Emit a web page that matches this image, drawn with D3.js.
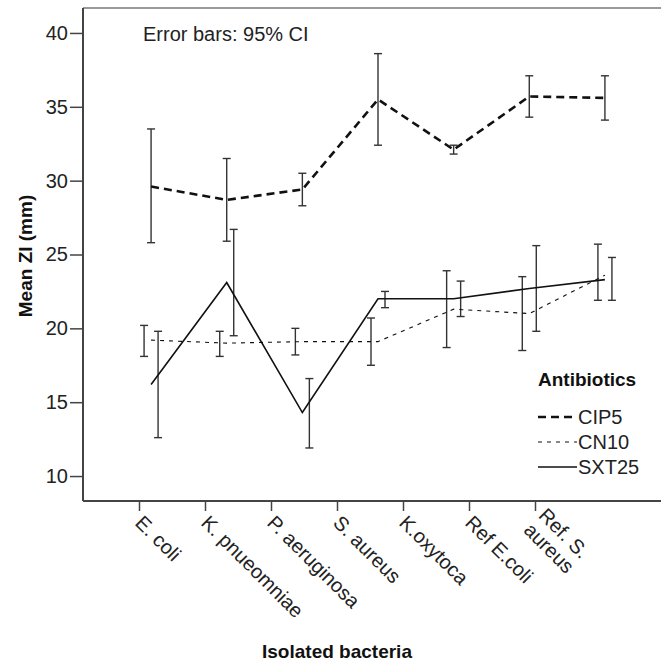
<!DOCTYPE html>
<html>
<head>
<meta charset="utf-8">
<script src="https://cdn.jsdelivr.net/npm/d3@7"></script>
<style>
  body { margin: 0; background: white; }
  svg { display: block; font-family: "Liberation Sans", Arial, sans-serif; }
</style>
</head>
<body>
<div id="content"></div>
<script>
// isolated bacteria (x categories), label lines for the rotated tick labels
const bacteria = ["E. coli", "K. pnueomniae", "P. aeruginosa", "S. aureus", "K.oxytoca", "Ref E.coli", "Ref. S. aureus"];
const tickLines = [["E. coli"], ["K. pnueomniae"], ["P. aeruginosa"], ["S. aureus"], ["K.oxytoca"], ["Ref E.coli"], ["Ref. S.", "aureus"]];

// mean zone of inhibition (mm) and 95% CI bounds
const cip5Mean = [29.6, 28.7, 29.4, 35.5, 32.1, 35.7, 35.6];
const cip5Lo   = [25.8, 25.9, 28.3, 32.4, 31.8, 34.3, 34.1];
const cip5Hi   = [33.5, 31.5, 30.5, 38.6, 32.4, 37.1, 37.1];

const cn10Mean = [19.2, 19.0, 19.1, 19.1, 21.3, 21.0, 23.6];
const cn10Lo   = [18.1, 18.1, 18.2, 17.5, 18.7, 18.5, 21.9];
const cn10Hi   = [20.2, 19.8, 20.0, 20.7, 23.9, 23.5, 25.7];

const sxtMean  = [16.2, 23.1, 14.3, 22.0, 22.0, 22.7, 23.3];
const sxtLo    = [12.6, 19.5, 11.9, 21.4, 20.8, 19.8, 21.9];
const sxtHi    = [19.8, 26.7, 16.6, 22.5, 23.2, 25.6, 24.8];

const yTicks = [10, 15, 20, 25, 30, 35, 40];

const W = 661;
const H = 664;
const plot = { left: 83, top: 8, right: 673, bottom: 501 };

// series styles, dodge = horizontal offset of the error bar
const series = [
  { name: "CIP5",  mean: cip5Mean, lo: cip5Lo, hi: cip5Hi, width: 2.6, dash: "8,5", dodge: 0 },
  { name: "CN10",  mean: cn10Mean, lo: cn10Lo, hi: cn10Hi, width: 1.1, dash: "4,5", dodge: -7 },
  { name: "SXT25", mean: sxtMean,  lo: sxtLo,  hi: sxtHi,  width: 1.6, dash: null,  dodge: 7 }
];

const svg = d3.select("#content")
  .append("svg")
  .attr("width", W)
  .attr("height", H);

svg.append("rect")
  .attr("width", W)
  .attr("height", H)
  .attr("fill", "white");

const x = d3.scalePoint().domain(bacteria).range([plot.left, plot.right]).padding(0.9);
// the category ticks sit on their own spacing in the original
const xTick = d3.scalePoint().domain(bacteria).range([plot.left + 56, plot.left + 452]);
const y = d3.scaleLinear().domain([8.31, 41.69]).range([plot.bottom, plot.top]);

// top border
svg.append("line")
  .attr("x1", plot.left).attr("x2", W)
  .attr("y1", plot.top).attr("y2", plot.top)
  .attr("stroke", "#999").attr("stroke-width", 2);

// y axis
const yAxis = svg.append("g")
  .attr("transform", `translate(${plot.left},0)`)
  .call(d3.axisLeft(y).tickValues(yTicks).tickSize(13).tickPadding(2));
yAxis.select(".domain").attr("stroke", "#444").attr("stroke-width", 2)
  .attr("d", `M0,${plot.top}V${plot.bottom}`);
yAxis.selectAll(".tick line").attr("stroke", "#444").attr("stroke-width", 1.5);
yAxis.selectAll(".tick text")
  .attr("font-family", "Liberation Sans, Arial, sans-serif")
  .attr("font-size", 20).attr("fill", "#222");

// x axis
const xAxis = svg.append("g")
  .attr("transform", `translate(0,${plot.bottom})`)
  .call(d3.axisBottom(xTick).tickSize(10).tickFormat(""));
xAxis.select(".domain").attr("stroke", "#444").attr("stroke-width", 2)
  .attr("d", `M${plot.left},0H${W}`);
xAxis.selectAll(".tick line").attr("stroke", "#444").attr("stroke-width", 1.5);

// rotated category labels
bacteria.forEach((b, i) => {
  const lines = tickLines[i];
  const t = svg.append("text")
    .attr("transform", `translate(${xTick(b)},${plot.bottom + 18}) rotate(45)`)
    .attr("font-size", 20).attr("fill", "#222");
  lines.forEach((s, j) => {
    t.append("tspan")
      .attr("x", 0)
      .attr("y", 0)
      .attr("dy", (0.35 + (j - (lines.length - 1) / 2) * 1.05) + "em")
      .text(s);
  });
});

// error bars
series.forEach(s => {
  const g = svg.append("g").attr("stroke", "#333").attr("stroke-width", 1.4);
  bacteria.forEach((b, i) => {
    const cx = x(b) + s.dodge;
    g.append("line").attr("x1", cx).attr("x2", cx).attr("y1", y(s.lo[i])).attr("y2", y(s.hi[i]));
    g.append("line").attr("x1", cx - 4).attr("x2", cx + 4).attr("y1", y(s.lo[i])).attr("y2", y(s.lo[i]));
    g.append("line").attr("x1", cx - 4).attr("x2", cx + 4).attr("y1", y(s.hi[i])).attr("y2", y(s.hi[i]));
  });
});

// mean lines
const line = d3.line().x((d, i) => x(bacteria[i])).y(d => y(d));
series.forEach(s => {
  svg.append("path")
    .datum(s.mean)
    .attr("d", line)
    .attr("fill", "none")
    .attr("stroke", "#111")
    .attr("stroke-width", s.width)
    .attr("stroke-dasharray", s.dash);
});

// note
svg.append("text")
  .attr("x", 143).attr("y", 41)
  .attr("font-size", 20).attr("fill", "#222")
  .text("Error bars: 95% CI");

// legend
const leg = svg.append("g").attr("transform", "translate(538,386)");
leg.append("text")
  .attr("font-size", 19).attr("font-weight", "bold").attr("fill", "#111")
  .text("Antibiotics");
series.forEach((s, i) => {
  const ly = 31 + i * 25;
  leg.append("line")
    .attr("x1", 0).attr("x2", 39).attr("y1", ly).attr("y2", ly)
    .attr("stroke", "#111").attr("stroke-width", s.width)
    .attr("stroke-dasharray", s.dash);
  leg.append("text")
    .attr("x", 40).attr("y", ly).attr("dy", "0.35em")
    .attr("font-size", 20).attr("fill", "#222")
    .text(s.name);
});

// axis titles
svg.append("text")
  .attr("x", 337).attr("y", 658)
  .attr("text-anchor", "middle")
  .attr("font-size", 19).attr("font-weight", "bold").attr("fill", "#111")
  .text("Isolated bacteria");

svg.append("text")
  .attr("transform", "translate(32,256) rotate(-90)")
  .attr("text-anchor", "middle")
  .attr("font-size", 19).attr("font-weight", "bold").attr("fill", "#111")
  .text("Mean ZI (mm)");
</script>
</body>
</html>
